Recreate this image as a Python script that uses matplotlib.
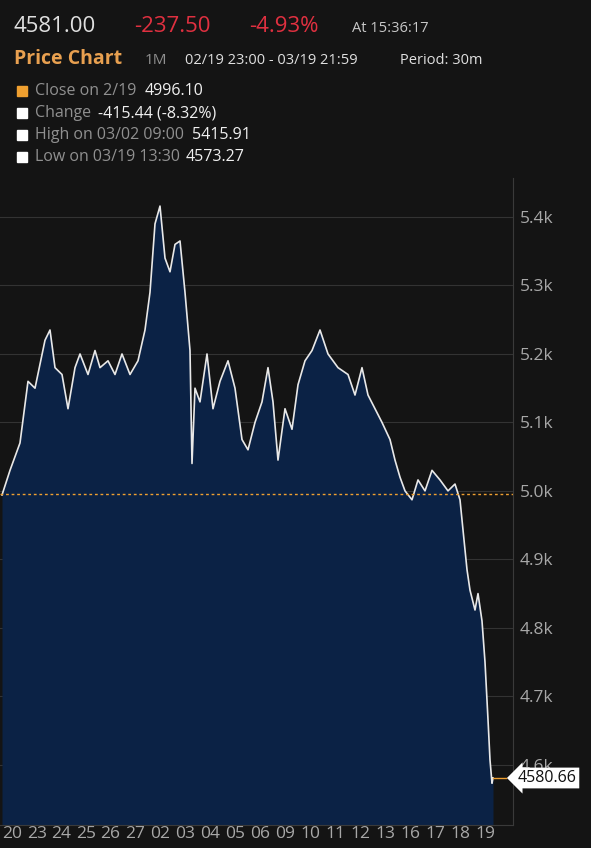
import matplotlib.pyplot as plt
import matplotlib.transforms as mtransforms
from matplotlib.patches import Rectangle

# positions along the time axis (chart pixels) and prices (k)
pos = [2, 10, 20, 28, 35, 45, 50, 55, 62, 68, 75, 80, 88, 95, 100, 108, 115, 122, 130, 138,
       145, 150, 155, 160, 165, 170, 175, 180, 185, 190, 192, 195, 200, 207, 213, 220, 228, 235,
       242, 248, 255, 262, 268, 273, 278, 285, 292, 298, 305, 312, 320, 328, 338, 348, 355, 362,
       368, 375, 382, 390, 395, 400, 405, 412, 418, 425, 432, 440, 448, 455, 460, 463, 467, 470,
       475, 478, 482, 485, 488, 490, 492, 493]
price = [4.994, 5.03, 5.07, 5.16, 5.15, 5.22, 5.235, 5.18, 5.17, 5.12, 5.18, 5.20, 5.17, 5.205,
         5.18, 5.19, 5.17, 5.20, 5.17, 5.19, 5.235, 5.29, 5.39, 5.416, 5.34, 5.32, 5.36, 5.365,
         5.29, 5.205, 5.04, 5.15, 5.13, 5.20, 5.12, 5.16, 5.19, 5.15, 5.075, 5.06, 5.10, 5.13,
         5.18, 5.13, 5.045, 5.12, 5.09, 5.155, 5.19, 5.205, 5.235, 5.20, 5.18, 5.17, 5.14, 5.18,
         5.14, 5.12, 5.10, 5.075, 5.045, 5.02, 5.0, 4.987, 5.016, 5.0, 5.03, 5.016, 5.0, 5.01,
         4.987, 4.943, 4.885, 4.855, 4.826, 4.85, 4.81, 4.75, 4.666, 4.607, 4.573, 4.5807]
day_labels = ["20", "23", "24", "25", "26", "27", "02", "03", "04", "05", "06", "09", "10",
              "11", "12", "13", "16", "17", "18", "19"]
day_pos = [12, 37, 61, 86, 110, 135, 160, 185, 210, 235, 260, 285, 310, 335, 360, 385, 410,
           435, 460, 485]
yticks = [4.6, 4.7, 4.8, 4.9, 5.0, 5.1, 5.2, 5.3, 5.4]
prev_close = 4.9961
last = 4.58066

plt.rcParams['font.family'] = ['Open Sans', 'DejaVu Sans']
bg = "#141414"
fig = plt.figure(figsize=(5.91, 8.48), dpi=100, facecolor=bg)
ax = fig.add_axes([0, 1 - 825 / 848, 513 / 591, (825 - 178) / 848], facecolor=bg)

ax.fill_between(pos, price, 4.4, color="#0b2245", lw=0)
ax.plot(pos, price, color="#e8e8e8", lw=1.2)
ax.axhline(prev_close, color="#f0a030", lw=1, ls=(0, (2, 2)))
ax.plot([493, 506], [last, last], color="#f0a030", lw=1)
for t in yticks:
    ax.axhline(t, color="#333333", lw=0.8, zorder=0.5)

ax.set_xlim(0, 513)
ax.set_ylim(4.512, 5.457)
ax.set_xticks(day_pos, day_labels)
ax.set_yticks(yticks, [f"{t:.1f}k" for t in yticks])
ax.yaxis.tick_right()
ax.tick_params(colors="#a8a8a8", labelsize=12.5, length=0, pad=5)
ax.tick_params(axis="x", pad=1, labelsize=12.5)
for s in ax.spines.values():
    s.set_visible(False)
ax.spines["right"].set_visible(True)
ax.spines["right"].set_color("#3a3a3a")
ax.spines["bottom"].set_visible(True)
ax.spines["bottom"].set_color("#3a3a3a")

trans = mtransforms.blended_transform_factory(fig.transFigure, ax.transData)
ax.text(518 / 591, last, f"{last * 1000:.2f}", transform=trans, va="center", ha="left",
        fontsize=11.5, color="#111111", clip_on=False,
        bbox=dict(boxstyle="larrow,pad=0.15", fc="white", ec="none"))

# header
def t(x, y, s, size, color, **kw):
    fig.text(x / 591, 1 - y / 848, s, fontsize=size, color=color, va="center", ha="left", **kw)

t(14, 26, "4581.00", 16, "#e0e0e0")
t(134, 26, "-237.50", 16, "#e03040")
t(249, 26, "-4.93%", 16, "#e03040")
t(352, 28, "At 15:36:17", 10.5, "#c8c8c8")
t(14, 59, "Price Chart", 14, "#e8a050", weight="bold")
t(145, 60, "1M", 11, "#909090")
t(185, 60, "02/19 23:00 - 03/19 21:59", 10.5, "#e0e0e0")
t(400, 60, "Period: 30m", 10.5, "#e0e0e0")
rows = [("Close on 2/19", "4996.10", "#f0a030", 145),
        ("Change", "-415.44 (-8.32%)", "white", 98),
        ("High on 03/02 09:00", "5415.91", "white", 192),
        ("Low on 03/19 13:30", "4573.27", "white", 186)]
for i, (lab, val, c, vx) in enumerate(rows):
    y = 91 + i * 22
    fig.patches.append(Rectangle((17 / 591, 1 - (y + 5) / 848), 10 / 591, 10 / 848,
                                 transform=fig.transFigure, color=c))
    t(35, y, lab, 11.5, "#909090")
    t(vx, y, val, 11.5, "#f0f0f0")

fig.savefig("out.png", dpi=100, facecolor=bg)
